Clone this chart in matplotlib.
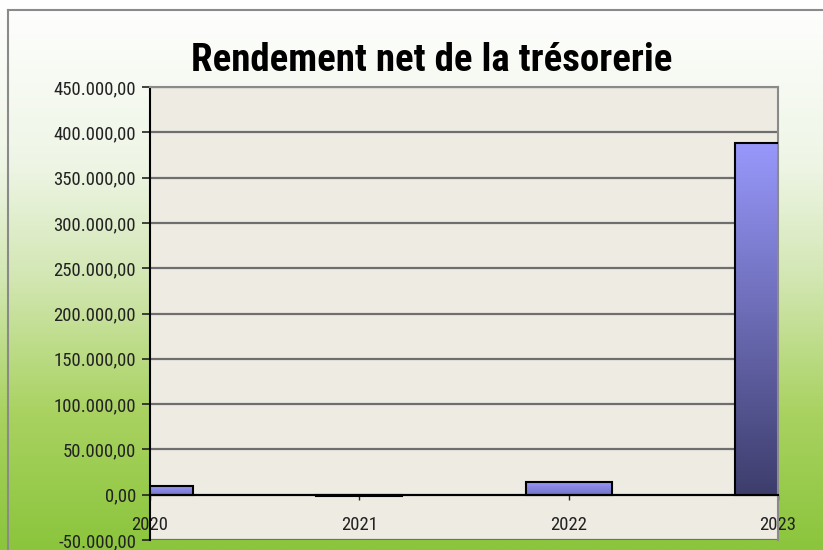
import numpy as np
import matplotlib.pyplot as plt
from matplotlib.colors import LinearSegmentedColormap
from matplotlib.ticker import FuncFormatter
from matplotlib.lines import Line2D

years = ["2020", "2021", "2022", "2023"]
rendement = [9500, -1500, 14500, 388000]
y_ticks = list(range(-50000, 450001, 50000))

narrow = ["Roboto Condensed", "DejaVu Sans"]


def fr_fmt(v, pos=None):
    s = f"{abs(v):,.2f}".replace(",", " ").replace(".", ",").replace(" ", ".")
    return ("-" if v < 0 else "") + s


fig = plt.figure(figsize=(8.23, 5.5), dpi=100)

# background: white at the top fading into green at the bottom
bg = fig.add_axes([0, 0, 1, 1], zorder=-10)
bg_cmap = LinearSegmentedColormap.from_list(
    "bg", [(0, "#8bc53c"), (0.25, "#a9d261"), (0.5, "#d3e7b4"),
           (0.7, "#eef5e5"), (1, "#ffffff")])
grad = np.linspace(0, 1, 256).reshape(-1, 1)
bg.imshow(grad, aspect="auto", cmap=bg_cmap, origin="lower", extent=[0, 1, 0, 1])
bg.set_axis_off()
fig.add_artist(Line2D([0.01, 1.0], [0.982, 0.982], color="#8a8a8a", lw=1.5))
fig.add_artist(Line2D([0.01, 0.01], [0.0, 0.982], color="#8a8a8a", lw=1.5))

ax = fig.add_axes([0.1823, 0.0182, 0.763, 0.8236])
ax.set_facecolor("#eeebe2")
x = np.arange(len(years))
bars = ax.bar(x, rendement, width=0.41, color="none", edgecolor="black", lw=1.5, zorder=3)

bar_cmap = LinearSegmentedColormap.from_list("bar", ["#3d3d6c", "#9898fc"])
for b in bars:
    x0, y0 = b.get_x(), b.get_y()
    w, h = b.get_width(), b.get_height()
    small = abs(h) < 50000
    img = ax.imshow(grad if h >= 0 else grad[::-1], aspect="auto", cmap=bar_cmap,
                    origin="lower", extent=[x0, x0 + w, min(y0, y0 + h), max(y0, y0 + h)],
                    zorder=2, vmin=-1.5 if small else 0, vmax=1)
    img.set_clip_path(b)
    img.set_clip_box(ax.bbox)

ax.set_xlim(0, len(years) - 1)
ax.set_ylim(-50000, 450000)
ax.set_yticks(y_ticks)
ax.yaxis.set_major_formatter(FuncFormatter(fr_fmt))
ax.yaxis.grid(True, color="#6e6e6e", lw=1.6)
ax.set_axisbelow(True)
ax.set_xticks(x, labels=years)

ax.spines["bottom"].set_position(("data", 0))
ax.spines["bottom"].set_linewidth(1.5)
ax.spines["bottom"].set_zorder(4)
ax.spines["left"].set_linewidth(1.5)
for s in ["top", "right"]:
    ax.spines[s].set_color("#8a8a8a")
    ax.spines[s].set_linewidth(1.5)

ax.tick_params(axis="y", length=6, width=1.2, pad=4, labelsize=13.5, colors="#222222")
ax.tick_params(axis="x", length=3.5, width=1.0, pad=12, labelsize=13.5, colors="#222222")
for lab in ax.get_xticklabels() + ax.get_yticklabels():
    lab.set_family(narrow)

fig.text(0.524, 0.89, "Rendement net de la trésorerie", ha="center", va="center",
         fontsize=28, fontweight="bold", family=narrow)

fig.savefig("out.png", dpi=100)
